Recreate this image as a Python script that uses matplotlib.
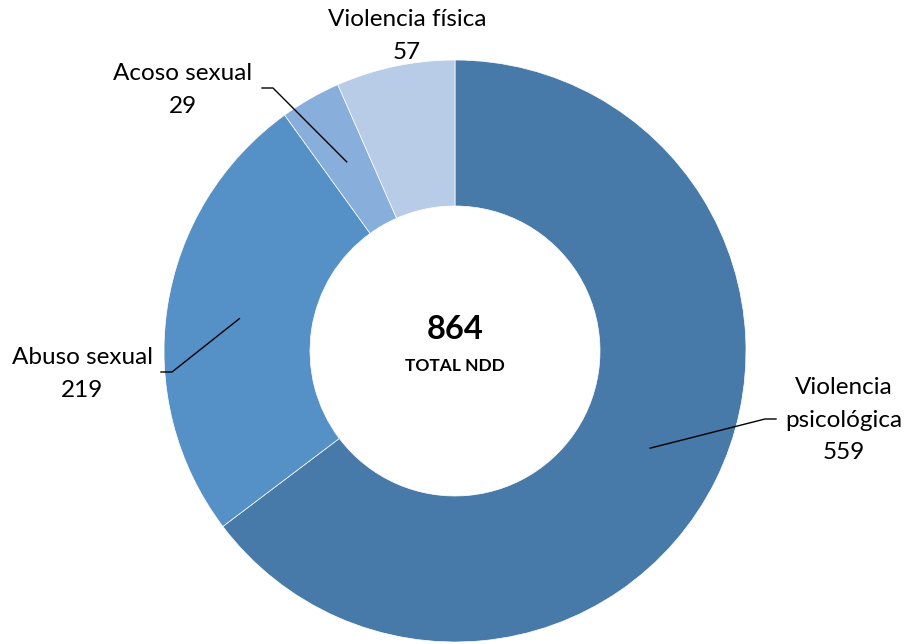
import numpy as np
import matplotlib
matplotlib.use("Agg")
import matplotlib.pyplot as plt

categories = ["Violencia\npsicológica", "Abuso sexual", "Acoso sexual", "Violencia física"]
values = [559, 219, 29, 57]
total_label = "TOTAL NDD"
colors = ["#4779A9", "#5591C7", "#88AEDB", "#B8CCE7"]

plt.rcParams['font.family'] = ['Lato', 'DejaVu Sans']

fig = plt.figure(figsize=(9.06, 6.44), dpi=100)
ax = fig.add_axes([0, 0, 1, 1])

R = 291
W = 146
wedges, _ = ax.pie(values, radius=R, startangle=90, counterclock=False,
                   colors=colors, wedgeprops=dict(width=W, edgecolor='white', linewidth=0.5))
ax.set_xlim(-455, 451)
ax.set_ylim(-293, 351)
ax.set_aspect('equal')
ax.axis('off')

# label layout: (text x, text y, elbow x, end x) ; None = no leader
layout = [
    (389, -69, 310, 321),
    (-373, -23, -283, -294),
    (-272, 261, -182, -193),
    (-48, 315, None, None),
]
rmid = R - W / 2
for w, cat, val, lay in zip(wedges, categories, values, layout):
    tx, ty, ex, endx = lay
    ang = np.deg2rad((w.theta1 + w.theta2) / 2)
    sx, sy = rmid * np.cos(ang), rmid * np.sin(ang)
    if ex is not None:
        ey = ty + (1 if cat.startswith("Violencia\n") else 2)
        ax.plot([sx, ex, endx], [sy, ey, ey], color='black', lw=1)
    ax.text(tx, ty, f"{cat}\n{val}", ha='center', va='center', fontsize=17.5,
            linespacing=1.65, color='black')

ax.text(0, 22, f"{sum(values)}", ha='center', va='center', fontsize=23.5, fontweight='bold')
ax.text(0, -15, total_label, ha='center', va='center', fontsize=12.5, fontweight='bold')

fig.savefig("out.png", dpi=100)
